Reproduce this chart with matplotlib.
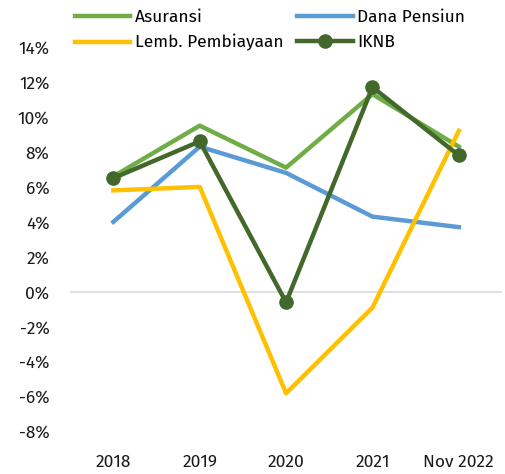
import matplotlib.pyplot as plt
from matplotlib.ticker import FuncFormatter

plt.rcParams['font.family'] = ['Fira Sans', 'Noto Sans', 'DejaVu Sans']

categories = ['2018', '2019', '2020', '2021', 'Nov 2022']
asuransi = [6.6, 9.5, 7.1, 11.3, 8.3]
dana_pensiun = [4.0, 8.3, 6.8, 4.3, 3.7]
lemb_pembiayaan = [5.8, 6.0, -5.8, -0.9, 9.2]
iknb = [6.5, 8.6, -0.6, 11.7, 7.8]

fig = plt.figure(figsize=(5.05, 4.74), dpi=100)
ax = fig.add_axes([0.139, 0.089, 0.855, 0.812])

x = range(len(categories))
l1, = ax.plot(x, asuransi, color='#70AD47', lw=3.2, label='Asuransi', zorder=3)
l2, = ax.plot(x, dana_pensiun, color='#5B9BD5', lw=3.2, label='Dana Pensiun', zorder=3)
l3, = ax.plot(x, lemb_pembiayaan, color='#FFC000', lw=3.2, label='Lemb. Pembiayaan', zorder=4)
l4, = ax.plot(x, iknb, color='#43682B', lw=3.2, marker='o', ms=9.5, label='IKNB', zorder=5)

ax.axhline(0, color='#D9D9D9', lw=1.2, zorder=1)
ax.set_xlim(-0.5, 4.5)
ax.set_ylim(-8, 14)
ax.set_yticks(range(-8, 15, 2))
ax.yaxis.set_major_formatter(FuncFormatter(lambda v, p: f'{v:.0f}%'))
ax.set_xticks(list(x))
ax.set_xticklabels(categories)
ax.tick_params(length=0, labelsize=12.5, colors='#1a1a1a')
ax.tick_params(axis='x', pad=16)
ax.tick_params(axis='y', pad=15)
for s in ax.spines.values():
    s.set_visible(False)

fig.legend(handles=[l1, l3, l2, l4], ncol=2, loc='upper left',
           bbox_to_anchor=(0.117, 1.013), frameon=False, fontsize=12.5,
           handlelength=3.2, handletextpad=0.25, columnspacing=0.8,
           labelspacing=0.5)

fig.savefig('out.png', dpi=100)
